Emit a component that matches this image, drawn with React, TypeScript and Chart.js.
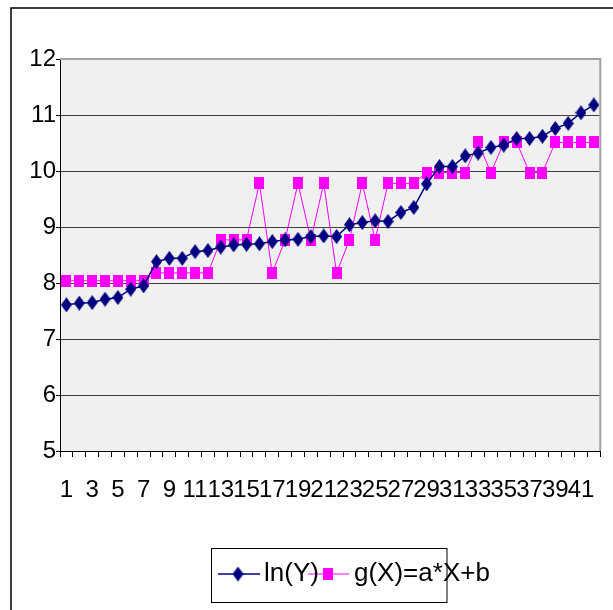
import React, { useEffect, useRef } from "react";
import { Chart, registerables } from "chart.js";

Chart.register(...registerables);

const categories = [
  "1", "2", "3", "4", "5", "6", "7", "8", "9", "10", "11", "12", "13", "14",
  "15", "16", "17", "18", "19", "20", "21", "22", "23", "24", "25", "26", "27", "28",
  "29", "30", "31", "32", "33", "34", "35", "36", "37", "38", "39", "40", "41", "42",
];

const lnY = [
  7.61, 7.64, 7.65, 7.71, 7.74, 7.89, 7.95,
  8.38, 8.44, 8.44, 8.56, 8.58, 8.64, 8.68,
  8.69, 8.70, 8.74, 8.77, 8.78, 8.83, 8.84, 8.83,
  9.04, 9.08, 9.11, 9.10, 9.26, 9.35, 9.77, 10.08,
  10.08, 10.27, 10.32, 10.42, 10.46, 10.58, 10.58, 10.62, 10.76, 10.85, 11.04, 11.18,
];

const gX = [
  8.04, 8.04, 8.04, 8.04, 8.04, 8.04, 8.04,
  8.18, 8.18, 8.18, 8.18, 8.18,
  8.77, 8.77, 8.77, 9.78, 8.18, 8.77, 9.78, 8.77, 9.78, 8.18, 8.77, 9.78, 8.77,
  9.78, 9.78, 9.78, 9.97, 9.97, 9.97, 9.97,
  10.51, 9.97, 10.51, 10.51, 9.97, 9.97, 10.51, 10.51, 10.51, 10.51,
];

const seriesNames = ["ln(Y)", "g(X)=a*X+b"];
const yMin = 5;
const yMax = 12;

const FONT = "'Liberation Sans', Arial, sans-serif";
const NAVY = "#000080";
const MAGENTA = "#ff00ff";

function makeDiamond(): HTMLCanvasElement {
  const c = document.createElement("canvas");
  c.width = 11;
  c.height = 15;
  const g = c.getContext("2d")!;
  g.fillStyle = NAVY;
  g.beginPath();
  g.moveTo(5.5, 0);
  g.lineTo(11, 7.5);
  g.lineTo(5.5, 15);
  g.lineTo(0, 7.5);
  g.closePath();
  g.fill();
  return c;
}

function makeSquare(): HTMLCanvasElement {
  const c = document.createElement("canvas");
  c.width = 10;
  c.height = 12;
  const g = c.getContext("2d")!;
  g.fillStyle = MAGENTA;
  g.fillRect(0, 0, 10, 12);
  return c;
}

export default function App() {
  const ref = useRef<HTMLCanvasElement | null>(null);

  useEffect(() => {
    const canvas = ref.current;
    if (!canvas) return;
    const diamond = makeDiamond();
    const square = makeSquare();

    const decor = {
      id: "decor",
      beforeDraw(chart: any) {
        const { ctx, chartArea: a } = chart;
        ctx.save();
        ctx.fillStyle = "#ffffff";
        ctx.fillRect(0, 0, chart.width, chart.height);
        ctx.fillStyle = "#f0f0f0";
        ctx.fillRect(a.left, a.top, a.right - a.left, a.bottom - a.top);
        ctx.restore();
      },
      beforeDatasetsDraw(chart: any) {
        const { ctx, chartArea: a } = chart;
        ctx.save();
        ctx.strokeStyle = "#a0a0a0";
        ctx.lineWidth = 2;
        ctx.beginPath();
        ctx.moveTo(a.left, a.top);
        ctx.lineTo(a.right, a.top);
        ctx.lineTo(a.right, a.bottom);
        ctx.stroke();
        ctx.restore();
      },
      afterDraw(chart: any) {
        const { ctx } = chart;
        ctx.save();
        // outer frame (left and top edges visible)
        ctx.strokeStyle = "#000";
        ctx.lineWidth = 1.5;
        ctx.beginPath();
        ctx.moveTo(11, chart.height + 5);
        ctx.lineTo(11, 8);
        ctx.lineTo(chart.width + 5, 8);
        ctx.stroke();

        // legend box
        ctx.lineWidth = 1;
        ctx.strokeRect(211.5, 548.5, 235.5, 54);

        const ly = 574;
        ctx.lineWidth = 1.5;
        ctx.strokeStyle = NAVY;
        ctx.beginPath();
        ctx.moveTo(218, ly);
        ctx.lineTo(260, ly);
        ctx.stroke();
        ctx.drawImage(diamond, 238 - 5.5, ly - 7.5);

        ctx.lineWidth = 1;
        ctx.strokeStyle = MAGENTA;
        ctx.beginPath();
        ctx.moveTo(308, ly);
        ctx.lineTo(349, ly);
        ctx.stroke();
        ctx.drawImage(square, 328 - 5, ly - 6);

        ctx.fillStyle = "#000";
        ctx.font = `26px ${FONT}`;
        ctx.textAlign = "left";
        ctx.textBaseline = "middle";
        ctx.fillText(seriesNames[0], 264, ly);
        ctx.fillText(seriesNames[1], 354, ly);
        ctx.restore();
      },
    };

    const chart = new Chart(canvas, {
      type: "line",
      data: {
        labels: categories,
        datasets: [
          {
            label: seriesNames[0],
            data: lnY,
            borderColor: NAVY,
            borderWidth: 1.5,
            pointStyle: diamond as any,
            pointRadius: 6,
            pointBackgroundColor: NAVY,
            pointBorderColor: NAVY,
            tension: 0,
            fill: false,
          },
          {
            label: seriesNames[1],
            data: gX,
            borderColor: MAGENTA,
            borderWidth: 1,
            pointStyle: square as any,
            pointRadius: 6,
            pointBackgroundColor: MAGENTA,
            pointBorderColor: MAGENTA,
            tension: 0,
            fill: false,
          },
        ],
      },
      options: {
        responsive: false,
        animation: false,
        events: [],
        layout: { padding: { left: 0, top: 59, right: 12, bottom: 99 } },
        plugins: {
          legend: { display: false },
          tooltip: { enabled: false },
          title: { display: false },
        },
        scales: {
          x: {
            type: "category",
            offset: true,
            afterFit: (s: any) => {
              s.height = 60;
            },
            grid: {
              display: true,
              drawOnChartArea: false,
              drawTicks: true,
              tickLength: 6,
              offset: true,
              color: "#000",
              tickColor: "#000",
            },
            border: { display: true, color: "#000", width: 1 },
            ticks: {
              autoSkip: false,
              maxRotation: 0,
              minRotation: 0,
              padding: 19,
              color: "#000",
              font: { family: FONT, size: 24 },
              callback: (_v: any, i: number) => (i % 2 === 0 ? categories[i] : ""),
            },
          },
          y: {
            min: yMin,
            max: yMax,
            afterFit: (s: any) => {
              s.width = 60;
            },
            grid: {
              color: (c: any) => (c.tick && c.tick.value === yMax ? "#a0a0a0" : "#404040"),
              tickColor: "#000",
              tickLength: 4,
              lineWidth: 1,
            },
            border: { display: true, color: "#000", width: 1 },
            ticks: {
              stepSize: 1,
              padding: 0,
              color: "#000",
              font: { family: FONT, size: 24 },
            },
          },
        },
      },
      plugins: [decor],
    });

    return () => chart.destroy();
  }, []);

  return (
    <div style={{ position: "absolute", left: 0, top: 0, width: 613, height: 610 }}>
      <canvas ref={ref} width={613} height={610} style={{ display: "block" }} />
    </div>
  );
}
